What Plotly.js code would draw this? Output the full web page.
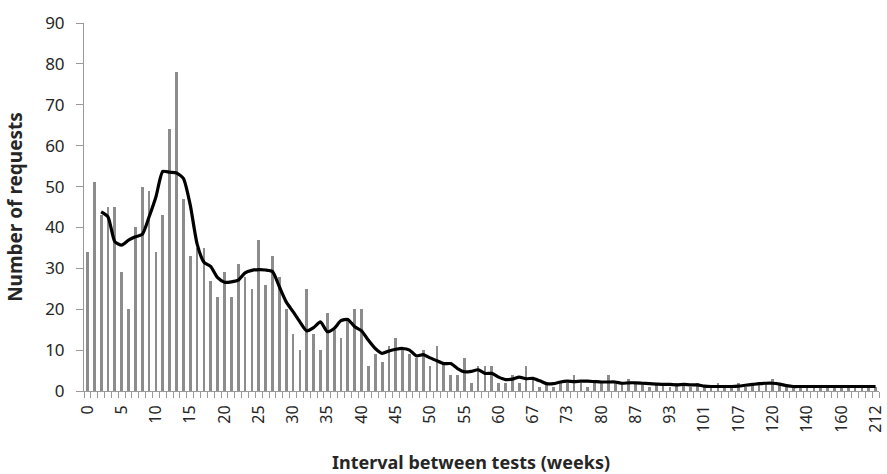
<!DOCTYPE html>
<html>
<head>
<meta charset="utf-8">
<script src="https://cdn.plot.ly/plotly-3.0.1.min.js"></script>
<style>html,body{margin:0;padding:0;background:#fff;}#chart{width:887px;height:474px;}</style>
</head>
<body>
<div id="chart"></div>
<script>
// Interval categories (weeks) shown on the x axis, in order
const weeks = [0,1,2,3,4,5,6,7,8,9,10,11,12,13,14,15,16,17,18,19,20,21,22,23,24,25,26,27,28,29,30,
  31,32,33,34,35,36,37,38,39,40,41,42,43,44,45,46,47,48,49,50,51,52,53,54,55,56,57,58,59,60,
  61,62,63,65,67,68,69,70,72,73,74,75,77,78,80,81,82,84,85,87,88,89,90,92,93,94,96,97,99,101,
  102,103,104,106,107,109,111,113,116,120,122,126,130,135,140,144,147,150,156,160,167,175,182,195,212];

// Number of requests per interval (bars)
const requests = [34,51,43,45,45,29,20,40,50,49,34,43,64,78,
  47,33,35,35,27,23,29,23,31,28,25,37,26,33,28,20,14,10,25,14,
  10,19,15,13,17,20,20,6,9,7,11,13,10,9,8,10,6,11,7,4,
  4,8,2,6,6,6,2,2,4,2,6,3,1,2,1,2,2,4,
  2,1,2,2,4,2,2,3,2,2,
  1,2,2,1,2,2,1,2,1,1,
  2,1,1,2,1,2,2,2,3,2,
  1,1,1,1,1,1,1,1,1,1,1,1,1,1];

// Moving-average trend line
const trend = [null,null,43.8,42.6,36.5,35.7,36.9,37.7,38.3,42.6,47.5,53.7,53.5,53.3,52.0,45.5,
  36.0,31.5,30.4,27.7,26.6,26.7,27.1,28.9,29.5,29.7,29.6,29.2,25.5,21.8,19.4,16.9,14.7,15.5,
  16.9,14.5,15.3,17.2,17.5,15.7,14.7,12.4,10.4,9.2,9.8,10.2,10.4,10.0,8.6,8.9,8.1,7.4,6.7,6.7,
  5.5,4.7,4.8,5.2,4.3,4.3,3.4,2.8,2.9,3.4,3.0,3.1,2.5,1.8,1.8,2.2,2.4,2.3,
  2.4,2.4,2.3,2.2,2.2,2.2,1.9,2.0,2.0,1.9,
  1.8,1.7,1.6,1.6,1.5,1.6,1.5,1.5,1.2,1.1,
  1.1,1.1,1.1,1.2,1.4,1.6,1.8,1.9,1.9,1.7,
  1.3,1.1,1.1,1.1,1.1,1.1,1.1,1.1,1.1,1.1,1.1,1.1,1.1,1.1];

const pos = weeks.map((w, i) => i);
const tickIdx = pos.filter(i => i % 5 === 0);
const tickTxt = tickIdx.map(i => String(weeks[i]));

const textColor = '#262626';
const axisColor = '#9a9a9a';

const traces = [
  {
    type: 'bar', x: pos, y: requests, width: 0.4,
    marker: {color: '#8c8c8c', line: {width: 0}},
    hoverinfo: 'skip'
  },
  {
    type: 'scatter', mode: 'lines', x: pos, y: trend,
    line: {color: '#000000', width: 3.2, shape: 'spline', smoothing: 0.6},
    connectgaps: false, hoverinfo: 'skip'
  }
];

const layout = {
  width: 887, height: 474,
  margin: {l: 84, r: 8, t: 23, b: 83, pad: 0},
  paper_bgcolor: '#ffffff', plot_bgcolor: '#ffffff',
  showlegend: false,
  font: {family: 'Noto Sans, sans-serif', color: textColor},
  bargap: 0,
  xaxis: {
    range: [-0.5, 115.5],
    tickmode: 'array', tickvals: tickIdx, ticktext: tickTxt,
    tickangle: -90,
    ticks: 'outside', ticklen: 7, tickcolor: 'rgba(0,0,0,0)',
    tickfont: {size: 16, color: textColor},
    ticklabeloverflow: 'allow',
    showline: true, linecolor: axisColor, linewidth: 1,
    showgrid: false, zeroline: false,
    minor: {tickmode: 'linear', tick0: 0.5, dtick: 1, ticks: 'outside', ticklen: 6, tickcolor: axisColor, showgrid: false}
  },
  yaxis: {
    range: [0, 90], tickmode: 'linear', tick0: 0, dtick: 10,
    ticks: 'outside', ticklen: 7, tickcolor: axisColor,
    tickfont: {size: 17, color: textColor},
    ticklabelstandoff: 8,
    showline: true, linecolor: axisColor, linewidth: 1,
    showgrid: false, zeroline: false,
    title: {text: '<b>Number of requests</b>', font: {size: 19, color: textColor}, standoff: 17}
  },
  annotations: [{
    text: '<b>Interval between tests (weeks)</b>',
    xref: 'paper', yref: 'paper', x: 0.487, y: -0.193,
    xanchor: 'center', yanchor: 'middle', showarrow: false,
    font: {size: 18, color: textColor}
  }]
};

Plotly.newPlot('chart', traces, layout, {staticPlot: true, displayModeBar: false});
</script>
</body>
</html>
